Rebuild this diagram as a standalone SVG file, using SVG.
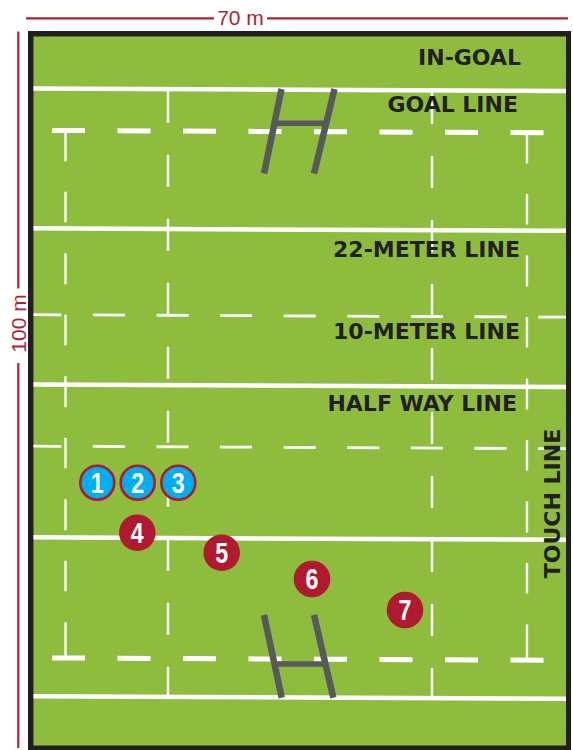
<svg xmlns="http://www.w3.org/2000/svg" width="573" height="750" viewBox="0 0 573 750">
<style>
.solid{stroke:#fff;stroke-width:4.5;fill:none}
.ten{stroke:#fff;stroke-width:2.8;stroke-dasharray:32 31.6;fill:none}
.five{stroke:#fff;stroke-width:5;stroke-dasharray:33 32.5;fill:none}
.vdash{stroke:#fff;stroke-width:2.4;stroke-dasharray:32 32;fill:none}
.vline{stroke:#fff;stroke-width:2.4;fill:none}
.post{stroke:#58595b;stroke-width:6.5;fill:none}
.bar{stroke:#58595b;stroke-width:5.5;fill:none}
.lbl{font-family:"DejaVu Sans",Verdana,sans-serif;font-weight:bold;font-size:22px;fill:#231f20}
.dim{font-family:"Liberation Sans",Arial,sans-serif;font-size:21px;fill:#b21f34}
.dimline{stroke:#b21f34;stroke-width:2.2;fill:none}
.num{font-family:"Liberation Sans Narrow","Liberation Sans",Arial,sans-serif;font-weight:bold;font-size:29px;fill:#fff;text-anchor:middle}
.blue{fill:#00aeef;stroke:#b01a31;stroke-width:2.6}
.red{fill:#b01a31}
</style>
<defs>
<clipPath id="fieldClip"><rect x="33.5" y="36.5" width="532.5" height="709"/></clipPath>
</defs>
<g id="dimensions">
<path class="dimline" d="M26 18.3H214M267 18.3H568"/>
<text class="dim" x="240.5" y="24.5" text-anchor="middle">70 m</text>
<path class="dimline" d="M18.3 31.5V288.5M18.3 363V748"/>
<text class="dim" transform="translate(25.5,323.5) rotate(-90)" text-anchor="middle">100 m</text>
</g>
<g id="pitch">
<rect x="28" y="31" width="543" height="719" fill="#231f20"/>
<rect x="33.5" y="36.5" width="532.5" height="709" fill="#8ebd3e"/>
</g>
<g id="field-lines" clip-path="url(#fieldClip)">
<g transform="skewY(0.27)">
<path class="solid" d="M30 88.3H570M30 228.2H570M30 384.3H570M30 537.2H570M30 696.1H570"/>
<path class="ten" d="M29.3 314.5H570M29.3 446H570"/>
<path class="five" d="M52 130.2H544M52 657.7H544"/>
<path class="vdash" d="M168 90V699M432 90V699"/>
<path class="vline" d="M65.5 130V161M65.5 191.5V222M65.5 253V284M65.5 314.5V345M65.5 376V407M65.5 437.5V468M65.5 499V530M65.5 560.5V591M65.5 622V657.7M527 130V161M527 191.5V222M527 253V284M527 314.5V345M527 376V407M527 437.5V468M527 499V530M527 560.5V591M527 622V657.7"/>
</g>
</g>
<g id="goalposts-top">
<path class="post" d="M281.5 89L264 173.5M334.5 89L314 173.5"/>
<path class="bar" d="M274.4 123.3H326.2"/>
</g>
<g id="goalposts-bottom">
<path class="post" d="M264 615L281.7 697.7M314 615L333.3 697.7"/>
<path class="bar" d="M274.5 664H325.4"/>
</g>
<g id="labels">
<text id="in-goal" class="lbl" x="521" y="65" text-anchor="end">IN-GOAL</text>
<text id="goal-line" class="lbl" x="518" y="112" text-anchor="end">GOAL LINE</text>
<text id="line-22" class="lbl" x="520" y="257" text-anchor="end">22-METER LINE</text>
<text id="line-10" class="lbl" x="520" y="339" text-anchor="end">10-METER LINE</text>
<text id="half-way" class="lbl" x="517" y="410.5" text-anchor="end">HALF WAY LINE</text>
<text id="touch-line" class="lbl" transform="translate(559.5,503.5) rotate(-90)" text-anchor="middle">TOUCH LINE</text>
</g>
<g id="player-1"><circle class="blue" cx="97.3" cy="482.7" r="17"/><text class="num" transform="translate(97.3,493) scale(0.8,1)">1</text></g>
<g id="player-2"><circle class="blue" cx="137.7" cy="482.7" r="17"/><text class="num" transform="translate(137.7,493) scale(0.8,1)">2</text></g>
<g id="player-3"><circle class="blue" cx="178.3" cy="482.7" r="17"/><text class="num" transform="translate(178.3,493) scale(0.8,1)">3</text></g>
<g id="player-4"><circle class="red" cx="137.3" cy="532.7" r="18.3"/><text class="num" transform="translate(137.3,543) scale(0.8,1)">4</text></g>
<g id="player-5"><circle class="red" cx="221.7" cy="552.7" r="18.3"/><text class="num" transform="translate(221.7,563) scale(0.8,1)">5</text></g>
<g id="player-6"><circle class="red" cx="312" cy="579" r="18.3"/><text class="num" transform="translate(312,589.3) scale(0.8,1)">6</text></g>
<g id="player-7"><circle class="red" cx="405" cy="610" r="18.3"/><text class="num" transform="translate(405,620.3) scale(0.8,1)">7</text></g>
</svg>
